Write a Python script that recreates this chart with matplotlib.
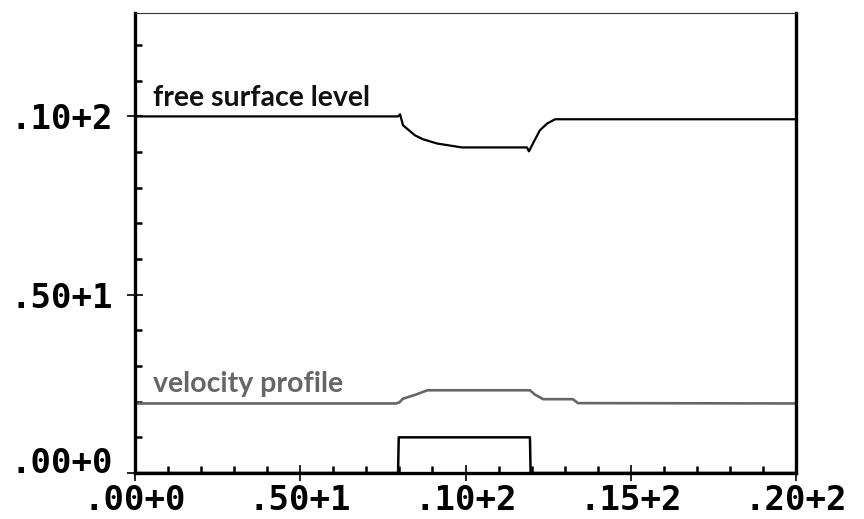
#!/usr/bin/env python3

import numpy as np
from matplotlib import pyplot as plt
from matplotlib.ticker import FixedLocator, MultipleLocator

out_filename = "out.png"

# free surface level along the channel
surf_x = [0.0, 7.96, 8.02, 8.11, 8.47, 8.71, 9.14, 9.89, 11.86, 11.92, 12.04, 12.25, 12.47, 12.71, 20.0]
surf_y = [10.0, 10.0, 10.06, 9.75, 9.47, 9.36, 9.24, 9.13, 9.13, 9.02, 9.24, 9.61, 9.80, 9.92, 9.92]

# velocity profile
vel_x = [0.0, 7.9, 8.0, 8.1, 8.5, 8.85, 11.95, 12.1, 12.35, 13.25, 13.4, 20.0]
vel_y = [1.95, 1.95, 1.98, 2.08, 2.2, 2.32, 2.32, 2.2, 2.07, 2.07, 1.96, 1.95]

# bed obstacle
bed_x = [0.0, 7.96, 7.98, 11.95, 11.97, 20.0]
bed_y = [0.0, 0.0, 1.0, 1.0, 0.0, 0.0]

xticks = [0, 5, 10, 15, 20]
xtick_labels = [".00+0", ".50+1", ".10+2", ".15+2", ".20+2"]
yticks = [0, 5, 10]
ytick_labels = [".00+0", ".50+1", ".10+2"]


def main():
    fig = plt.figure(figsize=(8.64, 5.19), dpi=100)
    ax = fig.add_axes([135 / 864, 1 - 473 / 519, 661 / 864, 460 / 519])

    ax.plot(surf_x, surf_y, color="black", linewidth=1.6)
    ax.plot(vel_x, vel_y, color="#666666", linewidth=1.9)
    ax.plot(bed_x, bed_y, color="black", linewidth=1.8)

    ax.set_xlim(0, 20)
    ax.set_ylim(0, 12.9)

    ax.text(0.55, 10.3, "free surface level", fontfamily="Lato",
            fontweight="bold", fontsize=20.5, color="#111111")
    ax.text(0.55, 2.27, "velocity profile", fontfamily="Lato",
            fontweight="bold", fontsize=20.5, color="#666666")

    for side in ("left", "bottom", "right"):
        ax.spines[side].set_linewidth(2.4)
        ax.spines[side].set_color("black")
    ax.spines["top"].set_linewidth(0.8)
    ax.spines["top"].set_color("#333333")

    ax.xaxis.set_major_locator(FixedLocator(xticks))
    ax.yaxis.set_major_locator(FixedLocator(yticks))
    ax.xaxis.set_minor_locator(MultipleLocator(1))
    ax.yaxis.set_minor_locator(MultipleLocator(1))
    ax.set_xticklabels(xtick_labels)
    ax.set_yticklabels(ytick_labels)

    ax.tick_params(which="major", direction="inout", length=12, width=1.2,
                   colors="black")
    ax.tick_params(which="minor", direction="in", length=5, width=1.8,
                   colors="black")
    ax.tick_params(axis="y", which="major", pad=10)
    ax.tick_params(axis="x", which="major", pad=2)
    for lab in ax.get_xticklabels() + ax.get_yticklabels():
        lab.set_fontfamily("DejaVu Sans Mono")
        lab.set_fontweight("bold")
        lab.set_fontsize(24.5)
    ax.get_yticklabels()[0].set_verticalalignment("baseline")

    fig.savefig(out_filename, dpi=100)
    plt.close()


if __name__ == "__main__":
    main()
